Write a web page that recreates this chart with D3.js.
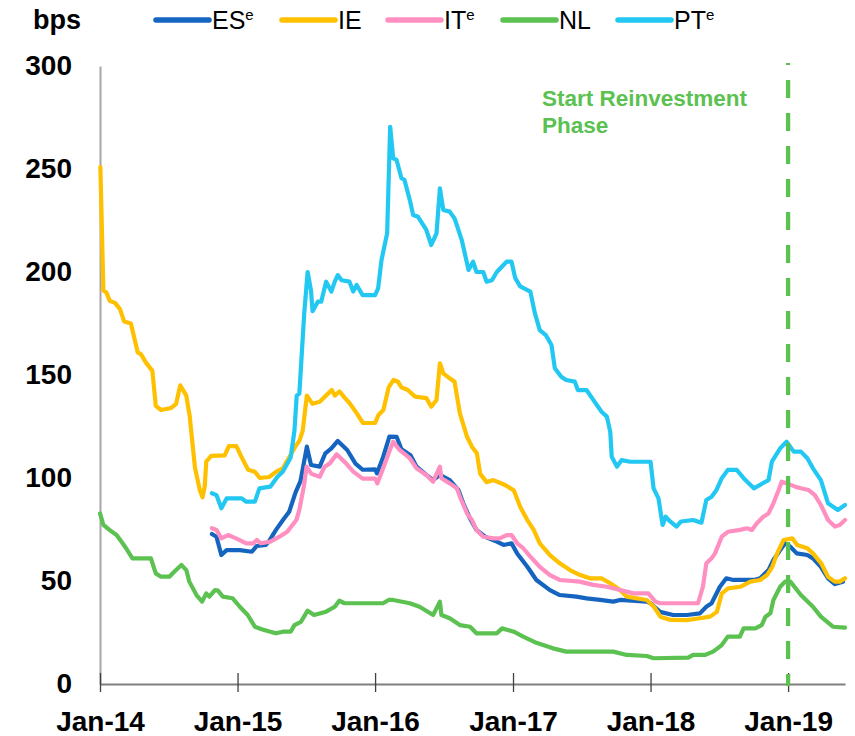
<!DOCTYPE html>
<html>
<head>
<meta charset="utf-8">
<script src="https://cdn.jsdelivr.net/npm/d3@7"></script>
<style>
  body { margin: 0; background: #fff; }
  svg { display: block; }
  text { font-family: "Liberation Sans", Arial, sans-serif; }
</style>
</head>
<body>
<div id="chart"></div>
<script>
// Spreads vs Bund (bps)
const seriesNames = ["ES", "IE", "IT", "NL", "PT"];
const seriesSup = ["e", "", "e", "", "e"];
const seriesColors = ["#1565c0", "#ffc000", "#ff8fc0", "#5bc150", "#22c8f2"];

const esData = [
  ["2014-10-25", 72.8], ["2014-11-06", 71.5], ["2014-11-19", 62.6], ["2014-12-03", 65], ["2015-01-07", 65],
  ["2015-02-08", 64.2], ["2015-02-21", 67], ["2015-03-17", 67.5], ["2015-03-25", 69.1], ["2015-04-13", 74.8],
  ["2015-05-03", 80], ["2015-05-18", 83.6], ["2015-06-04", 93], ["2015-06-17", 98.5], ["2015-07-04", 115.2],
  ["2015-07-15", 106.3], ["2015-08-07", 105.5], ["2015-08-22", 112], ["2015-09-07", 114.4], ["2015-09-24", 118],
  ["2015-10-19", 113.6], ["2015-11-10", 107], ["2015-11-29", 104], ["2016-01-01", 104.2], ["2016-01-06", 102.3],
  ["2016-01-22", 110], ["2016-02-08", 120.1], ["2016-02-27", 120], ["2016-03-11", 114], ["2016-04-04", 111],
  ["2016-04-20", 105.5], ["2016-05-16", 101.5], ["2016-06-03", 99], ["2016-06-21", 101.5], ["2016-07-17", 99],
  ["2016-08-09", 94.2], ["2016-08-22", 87.7], ["2016-09-09", 80.4], ["2016-09-26", 74.8], ["2016-10-19", 71.5],
  ["2016-11-19", 69.1], ["2016-12-07", 67.5], ["2016-12-28", 68.3], ["2017-01-12", 63.4], ["2017-02-08", 56.9],
  ["2017-03-04", 50.5], ["2017-04-09", 45.6], ["2017-05-05", 43.2], ["2017-06-18", 42.4], ["2017-07-15", 41.6],
  ["2017-08-20", 40.8], ["2017-09-24", 40], ["2017-10-12", 40.8], ["2017-12-22", 40], ["2018-01-01", 39.2],
  ["2018-01-26", 35], ["2018-03-02", 33.5], ["2018-04-07", 33.5], ["2018-05-12", 34.3], ["2018-05-29", 37.5],
  ["2018-06-12", 39.2], ["2018-07-04", 47.2], ["2018-07-21", 51.3], ["2018-08-09", 50.5], ["2018-10-02", 50.5],
  ["2018-10-19", 51.3], ["2018-11-10", 55.3], ["2018-11-23", 60.2], ["2018-12-11", 65], ["2018-12-24", 68.3],
  ["2019-01-07", 66.6], ["2019-01-24", 63.4], ["2019-02-21", 62.6], ["2019-03-08", 61], ["2019-03-29", 56.9],
  ["2019-04-17", 51.3], ["2019-05-05", 48.5], ["2019-05-27", 49.7]
];

const ieData = [
  ["2014-01-02", 251], ["2014-01-10", 191], ["2014-01-18", 190], ["2014-01-27", 186], ["2014-02-10", 185],
  ["2014-02-23", 182], ["2014-03-06", 176], ["2014-03-24", 175], ["2014-04-11", 161], ["2014-04-20", 160],
  ["2014-05-03", 156], ["2014-05-20", 152], ["2014-05-29", 135], ["2014-06-12", 133], ["2014-07-09", 134],
  ["2014-07-22", 136], ["2014-08-02", 145], ["2014-08-18", 140], ["2014-08-27", 130], ["2014-09-10", 105],
  ["2014-09-23", 94], ["2014-09-30", 90.6], ["2014-10-06", 96], ["2014-10-10", 108], ["2014-10-23", 110.7],
  ["2014-11-28", 111], ["2014-12-09", 115.5], ["2014-12-29", 115.5], ["2015-01-12", 110], ["2015-01-29", 104],
  ["2015-02-16", 103], ["2015-03-01", 100], ["2015-03-26", 100.5], ["2015-04-13", 103], ["2015-05-01", 104.7],
  ["2015-06-06", 116], ["2015-06-14", 118], ["2015-06-23", 123], ["2015-07-04", 140], ["2015-07-19", 136],
  ["2015-08-07", 137], ["2015-08-24", 140], ["2015-09-08", 142.7], ["2015-09-16", 140], ["2015-09-29", 142],
  ["2015-10-12", 139], ["2015-10-25", 136.4], ["2015-11-13", 131.5], ["2015-11-30", 126.7], ["2016-01-01", 126.7],
  ["2016-01-10", 130.6], ["2016-01-23", 133], ["2016-02-06", 144], ["2016-02-19", 147.6], ["2016-03-02", 146.7],
  ["2016-03-11", 144], ["2016-03-28", 142.7], ["2016-04-16", 139.5], ["2016-05-16", 138.8], ["2016-05-29", 134.6],
  ["2016-06-12", 137.9], ["2016-06-21", 155.7], ["2016-06-30", 150.8], ["2016-07-17", 148.4], ["2016-07-30", 146.7],
  ["2016-08-13", 131.4], ["2016-09-01", 120], ["2016-09-14", 115.2], ["2016-09-27", 112], ["2016-10-06", 102],
  ["2016-10-23", 98], ["2016-11-10", 99], ["2016-12-11", 96.6], ["2017-01-03", 94], ["2017-01-20", 86],
  ["2017-02-08", 79.6], ["2017-02-25", 74.8], ["2017-03-13", 68.3], ["2017-04-09", 62.6], ["2017-05-05", 58.6],
  ["2017-06-01", 55.3], ["2017-06-28", 52.9], ["2017-07-24", 51.3], ["2017-08-24", 51.3], ["2017-09-16", 48.9],
  ["2017-10-12", 45.6], ["2017-10-30", 42.4], ["2017-12-22", 40.8], ["2018-01-10", 37.5], ["2018-01-27", 32.7],
  ["2018-02-23", 31.1], ["2018-04-07", 31], ["2018-05-12", 31.9], ["2018-06-08", 32.7], ["2018-06-26", 35],
  ["2018-07-09", 44], ["2018-07-26", 46.4], ["2018-08-27", 47.2], ["2018-09-23", 49.7], ["2018-10-19", 50.5],
  ["2018-11-06", 52.9], ["2018-11-20", 56.9], ["2018-12-03", 63.4], ["2018-12-20", 69.9], ["2019-01-12", 70.7],
  ["2019-01-25", 67.5], ["2019-02-21", 65.9], ["2019-03-08", 63.4], ["2019-03-30", 58.6], ["2019-04-17", 52],
  ["2019-05-05", 49.7], ["2019-05-18", 49.7], ["2019-06-01", 51.3]
];

const itData = [
  ["2014-10-25", 75.6], ["2014-11-06", 74.8], ["2014-11-19", 70.7], ["2014-12-07", 72.3], ["2014-12-28", 70.7],
  ["2015-01-24", 68.3], ["2015-02-12", 68.3], ["2015-02-21", 69.9], ["2015-03-04", 68.3], ["2015-03-29", 69.1],
  ["2015-04-22", 71.5], ["2015-05-13", 73.9], ["2015-06-06", 79.6], ["2015-06-14", 84.5], ["2015-06-27", 97],
  ["2015-07-03", 105.5], ["2015-07-16", 102], ["2015-08-07", 100.6], ["2015-08-20", 105.5], ["2015-09-03", 107.1],
  ["2015-09-21", 111.5], ["2015-10-16", 107.1], ["2015-11-04", 103.1], ["2015-11-29", 99.7], ["2016-01-01", 99.7],
  ["2016-01-07", 97.4], ["2016-01-24", 105.5], ["2016-02-06", 112], ["2016-02-18", 117.6], ["2016-03-06", 113.6],
  ["2016-04-02", 109.6], ["2016-04-20", 104.7], ["2016-05-16", 101.5], ["2016-06-03", 98.2], ["2016-06-21", 105.5],
  ["2016-06-25", 99.9], ["2016-07-17", 97.4], ["2016-08-05", 95], ["2016-08-13", 91], ["2016-09-01", 82.8],
  ["2016-09-14", 79.6], ["2016-09-26", 74.8], ["2016-10-14", 71.5], ["2016-11-10", 70.7], ["2016-11-27", 70.7],
  ["2016-12-15", 72.3], ["2016-12-28", 72.3], ["2017-01-12", 68.3], ["2017-01-28", 65.9], ["2017-02-16", 61.8],
  ["2017-03-13", 56.9], ["2017-04-09", 52.9], ["2017-05-05", 50.5], ["2017-06-27", 49.7], ["2017-08-02", 48.1],
  ["2017-09-07", 47.2], ["2017-10-12", 45.6], ["2017-11-17", 44], ["2017-12-26", 44], ["2018-01-14", 40],
  ["2018-01-26", 39.2], ["2018-05-07", 39.2], ["2018-05-20", 47.2], ["2018-05-29", 58.6], ["2018-06-12", 61],
  ["2018-06-21", 63.4], ["2018-07-09", 71.5], ["2018-07-25", 73.9], ["2018-08-26", 74.8], ["2018-09-14", 75.6],
  ["2018-09-27", 74.8], ["2018-10-10", 78], ["2018-10-27", 81.2], ["2018-11-10", 82.8], ["2018-11-23", 87.7],
  ["2018-12-07", 94.2], ["2018-12-15", 98.2], ["2018-12-28", 97.4], ["2019-01-20", 95.8], ["2019-02-04", 95],
  ["2019-02-24", 94.2], ["2019-03-13", 91.7], ["2019-03-29", 86.9], ["2019-04-17", 79.6], ["2019-05-05", 76.4],
  ["2019-05-18", 77.2], ["2019-06-01", 79.6]
];

const nlData = [
  ["2014-01-01", 82.8], ["2014-01-10", 77.2], ["2014-01-26", 74.8], ["2014-02-14", 72.3], ["2014-03-02", 68.3],
  ["2014-03-11", 65.9], ["2014-03-28", 61], ["2014-05-16", 61], ["2014-05-29", 53.7], ["2014-06-12", 52.1],
  ["2014-07-04", 52.1], ["2014-07-17", 54.5], ["2014-08-05", 57.8], ["2014-08-18", 55.3], ["2014-08-26", 49.7],
  ["2014-09-14", 43.2], ["2014-09-29", 40], ["2014-10-10", 44], ["2014-10-18", 42.4], ["2014-11-02", 45.6],
  ["2014-11-10", 45.3], ["2014-11-23", 42.4], ["2014-12-19", 41.6], ["2015-01-07", 37.5], ["2015-01-28", 33.5],
  ["2015-02-16", 27.8], ["2015-03-08", 26.5], ["2015-03-29", 25.4], ["2015-04-13", 24.6], ["2015-05-01", 25.4],
  ["2015-05-22", 25.4], ["2015-06-01", 28.6], ["2015-06-18", 30.2], ["2015-07-06", 35.6], ["2015-07-23", 33.5],
  ["2015-08-24", 35.1], ["2015-09-16", 37.5], ["2015-09-28", 40.4], ["2015-10-12", 39.2], ["2016-01-22", 39.2],
  ["2016-02-06", 40.8], ["2016-02-18", 40.8], ["2016-04-02", 39.2], ["2016-04-28", 37.5], ["2016-06-03", 33.5],
  ["2016-06-21", 40], ["2016-06-25", 33.5], ["2016-07-17", 31.9], ["2016-08-13", 28.6], ["2016-09-09", 27.8],
  ["2016-09-26", 24.6], ["2016-11-19", 24.6], ["2016-12-03", 27], ["2017-01-03", 25.4], ["2017-01-28", 23],
  ["2017-03-04", 20], ["2017-04-17", 17.3], ["2017-05-22", 15.7], ["2017-09-24", 15.7], ["2017-10-30", 14.1],
  ["2017-12-22", 13.6], ["2018-01-09", 12.5], ["2018-04-11", 12.8], ["2018-04-24", 14.1], ["2018-05-25", 14.1],
  ["2018-06-16", 15.7], ["2018-07-09", 18.9], ["2018-07-25", 23], ["2018-08-26", 23], ["2018-09-05", 27],
  ["2018-10-06", 27], ["2018-10-23", 28.6], ["2018-11-02", 32.7], ["2018-11-15", 34.3], ["2018-11-23", 40.8],
  ["2018-12-11", 47.2], ["2018-12-24", 49.7], ["2019-01-07", 49.7], ["2019-02-04", 43.2], ["2019-03-08", 37.5],
  ["2019-03-29", 32.7], ["2019-04-30", 27.8], ["2019-06-01", 27.4]
];

const ptData = [
  ["2014-10-25", 92.6], ["2014-11-06", 91.7], ["2014-11-19", 85.3], ["2014-12-03", 90.1], ["2015-01-12", 90.1],
  ["2015-01-24", 88.5], ["2015-02-16", 88.5], ["2015-02-28", 95], ["2015-03-29", 95.8], ["2015-04-17", 100.6],
  ["2015-05-01", 103], ["2015-05-22", 110], ["2015-06-01", 123], ["2015-06-07", 140], ["2015-06-14", 141],
  ["2015-06-27", 180], ["2015-07-06", 200], ["2015-07-15", 191], ["2015-07-19", 181], ["2015-08-02", 185.6],
  ["2015-08-11", 185.6], ["2015-08-24", 195.3], ["2015-09-07", 190.5], ["2015-09-16", 195.3], ["2015-09-24", 198.5],
  ["2015-10-04", 196], ["2015-10-25", 195.3], ["2015-11-04", 190.5], ["2015-11-13", 193.7], ["2015-11-29", 188.8],
  ["2016-01-01", 188.8], ["2016-01-09", 192], ["2016-01-18", 205.8], ["2016-02-02", 218.8], ["2016-02-10", 270.5],
  ["2016-02-18", 255.2], ["2016-02-27", 254.4], ["2016-03-11", 245.5], ["2016-03-19", 244.7], ["2016-04-02", 235],
  ["2016-04-11", 227.7], ["2016-04-24", 226.8], ["2016-05-16", 220.4], ["2016-05-29", 213.1], ["2016-06-12", 218.8],
  ["2016-06-21", 240.6], ["2016-06-30", 230.1], ["2016-07-17", 229.3], ["2016-07-30", 226], ["2016-08-18", 215.5],
  ["2016-09-05", 201], ["2016-09-17", 205], ["2016-09-26", 200], ["2016-10-14", 200], ["2016-10-23", 195.3],
  ["2016-11-06", 196], ["2016-11-19", 200], ["2016-12-15", 205], ["2016-12-28", 205], ["2017-01-07", 197],
  ["2017-01-20", 193], ["2017-02-16", 190.5], ["2017-02-28", 180], ["2017-03-13", 171.8], ["2017-03-29", 169.4],
  ["2017-04-13", 164.6], ["2017-04-22", 153.3], ["2017-05-09", 149.2], ["2017-05-22", 147.6], ["2017-06-14", 146.8],
  ["2017-06-22", 142.7], ["2017-07-15", 142.7], ["2017-08-02", 137.9], ["2017-08-24", 132.2], ["2017-09-07", 129.8],
  ["2017-09-16", 122.5], ["2017-09-20", 110.3], ["2017-10-04", 105.5], ["2017-10-16", 108.7], ["2017-11-08", 107.9],
  ["2018-01-01", 107.9], ["2018-01-09", 95], ["2018-01-22", 90.1], ["2018-02-02", 77.2], ["2018-02-10", 81.2],
  ["2018-02-22", 78.9], ["2018-03-11", 76.4], ["2018-03-23", 78.9], ["2018-04-24", 79.6], ["2018-05-16", 78.3],
  ["2018-05-29", 89.3], ["2018-06-12", 90.9], ["2018-06-25", 94.2], ["2018-07-09", 99.9], ["2018-07-25", 103.9],
  ["2018-08-18", 103.9], ["2018-09-05", 99.9], ["2018-10-02", 95], ["2018-11-02", 98.2], ["2018-11-10", 99],
  ["2018-11-19", 107.9], ["2018-12-11", 114.4], ["2018-12-28", 117.6], ["2019-01-16", 112.8], ["2019-02-04", 112.8],
  ["2019-02-21", 109.6], ["2019-03-08", 104.7], ["2019-03-29", 99], ["2019-04-17", 87.7], ["2019-05-13", 84.5],
  ["2019-06-01", 86.9]
];

const allSeries = [esData, ieData, itData, nlData, ptData];
const yTicks = [0, 50, 100, 150, 200, 250, 300];
const xTickDates = ["2014-01-01", "2015-01-01", "2016-01-01", "2017-01-01", "2018-01-01", "2019-01-01"];
const xLabels = ["Jan-14", "Jan-15", "Jan-16", "Jan-17", "Jan-18", "Jan-19"];
const xStart = "2014-01-01";
const xEnd = "2019-06-01";
const reinvestDate = "2019-01-01";
const annotation = ["Start Reinvestment", "Phase"];

const width = 855, height = 736;
const margin = { left: 100, right: 10, top: 66, bottom: 52 };
const parse = d3.timeParse("%Y-%m-%d");
const green = "#5bc150";

const svg = d3.select("#chart").append("svg")
  .attr("width", width)
  .attr("height", height)
  .attr("viewBox", `0 0 ${width} ${height}`);

const x = d3.scaleTime()
  .domain([parse(xStart), parse(xEnd)])
  .range([margin.left, width - margin.right]);
const y = d3.scaleLinear()
  .domain([0, 300])
  .range([height - margin.bottom, margin.top]);

// y axis: just a grey line and bold labels
const yAxis = d3.axisLeft(y).tickValues(yTicks).tickSize(0).tickPadding(28);
svg.append("g")
  .attr("transform", `translate(${margin.left},0)`)
  .call(yAxis)
  .call(g => g.select(".domain").attr("stroke", "#a6a6a6").attr("stroke-width", 2))
  .call(g => g.selectAll(".tick text")
    .attr("font-size", 28)
    .attr("font-weight", "bold")
    .attr("font-family", "'Liberation Sans', Arial, sans-serif")
    .attr("fill", "#000"));

// x axis with ticks that cross the line
const xAxis = d3.axisBottom(x)
  .tickValues(xTickDates.map(parse))
  .tickFormat((d, i) => xLabels[i])
  .tickSizeOuter(0)
  .tickSizeInner(8);
svg.append("g")
  .attr("transform", `translate(0,${y(0)})`)
  .call(xAxis)
  .call(g => g.select(".domain").attr("stroke", "#7f7f7f").attr("stroke-width", 2))
  .call(g => g.selectAll(".tick line").attr("y1", -11).attr("stroke", "#404040").attr("stroke-width", 1.3))
  .call(g => g.selectAll(".tick text")
    .attr("y", 47)
    .attr("dy", 0)
    .attr("font-size", 28)
    .attr("font-weight", "bold")
    .attr("font-family", "'Liberation Sans', Arial, sans-serif")
    .attr("fill", "#000"));

// series
const line = d3.line()
  .x(d => x(parse(d[0])))
  .y(d => y(d[1]));

svg.append("g")
  .selectAll("path")
  .data(allSeries)
  .join("path")
  .attr("fill", "none")
  .attr("stroke", (d, i) => seriesColors[i])
  .attr("stroke-width", 4.2)
  .attr("stroke-linejoin", "round")
  .attr("stroke-linecap", "round")
  .attr("d", line);

// reinvestment marker
svg.append("line")
  .attr("x1", x(parse(reinvestDate)))
  .attr("x2", x(parse(reinvestDate)))
  .attr("y1", y(300) - 3)
  .attr("y2", y(0) + 2)
  .attr("stroke", green)
  .attr("stroke-width", 4.3)
  .attr("stroke-dasharray", "18,15")
  .attr("stroke-dashoffset", 16);

svg.append("text")
  .attr("x", 542)
  .attr("y", 106)
  .attr("fill", green)
  .attr("font-size", 22.5)
  .attr("font-weight", "bold")
  .selectAll("tspan")
  .data(annotation)
  .join("tspan")
  .attr("x", 542)
  .attr("dy", (d, i) => i === 0 ? 0 : 27)
  .text(d => d);

// header: unit + legend
svg.append("text")
  .attr("x", 33)
  .attr("y", 29)
  .attr("font-size", 27)
  .attr("font-weight", "bold")
  .text("bps");

const legendLineX = [156, 282, 388, 503, 618];
const legend = svg.append("g")
  .selectAll("g")
  .data(seriesNames)
  .join("g")
  .attr("transform", (d, i) => `translate(${legendLineX[i]},20)`);

legend.append("line")
  .attr("x1", 0).attr("x2", 53)
  .attr("stroke", (d, i) => seriesColors[i])
  .attr("stroke-width", 5.5)
  .attr("stroke-linecap", "round");

const legendText = legend.append("text")
  .attr("x", 56)
  .attr("y", 9)
  .attr("font-size", 25);
legendText.append("tspan").text(d => d);
legendText.append("tspan")
  .attr("font-size", 15)
  .attr("dy", -9)
  .text((d, i) => seriesSup[i]);
</script>
</body>
</html>
